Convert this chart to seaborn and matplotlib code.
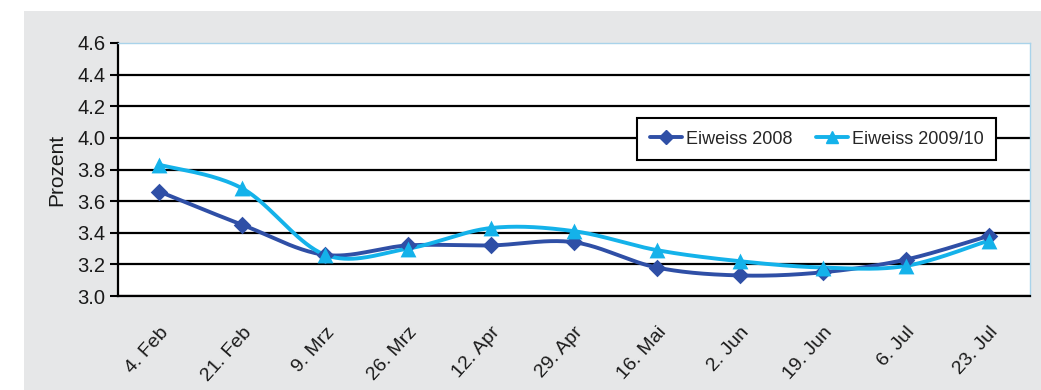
import numpy as np
import pandas as pd
import seaborn as sns
import matplotlib.pyplot as plt
from matplotlib.lines import Line2D
from matplotlib.patches import Rectangle

dates = ['4. Feb', '21. Feb', '9. Mrz', '26. Mrz', '12. Apr', '29. Apr',
         '16. Mai', '2. Jun', '19. Jun', '6. Jul', '23. Jul']
eiweiss_2008 = [3.66, 3.45, 3.26, 3.32, 3.32, 3.34, 3.18, 3.13, 3.15, 3.23, 3.38]
eiweiss_2009_10 = [3.83, 3.68, 3.26, 3.30, 3.43, 3.41, 3.29, 3.22, 3.18, 3.19, 3.35]
series_names = ['Eiweiss 2008', 'Eiweiss 2009/10']
colors = ['#2F4FA6', '#14B2EA']


def smooth_curve(values, steps=40):
    # excel-like smoothed line: catmull-rom bezier through the points
    pts = np.column_stack([np.arange(len(values)), values]).astype(float)
    ext = np.vstack([pts[0], pts, pts[-1]])
    out = []
    t = np.linspace(0, 1, steps)[:, None]
    for i in range(1, len(ext) - 2):
        p0, p1, p2, p3 = ext[i - 1], ext[i], ext[i + 1], ext[i + 2]
        c1 = p1 + (p2 - p0) / 6
        c2 = p2 - (p3 - p1) / 6
        seg = ((1 - t) ** 3) * p1 + 3 * ((1 - t) ** 2) * t * c1 \
            + 3 * (1 - t) * t ** 2 * c2 + t ** 3 * p2
        out.append(seg)
    return np.vstack(out)


sns.set_style('white')
plt.rcParams['font.family'] = ['Liberation Sans', 'DejaVu Sans']

fig = plt.figure(figsize=(10.41, 3.9), dpi=100, facecolor='white')
fig.patches.append(Rectangle((24 / 1041, 0), 1, 1 - 11 / 390,
                             transform=fig.transFigure, facecolor='#E6E7E8',
                             edgecolor='none', zorder=-10))
ax = fig.add_axes([118 / 1041, 1 - 296 / 390, 912 / 1041, 253 / 390])
ax.set_facecolor('white')

curves = []
points = []
for name, vals in zip(series_names, [eiweiss_2008, eiweiss_2009_10]):
    c = smooth_curve(vals)
    curves.append(pd.DataFrame({'x': c[:, 0], 'y': c[:, 1], 'serie': name,
                                'order': np.arange(len(c))}))
    points.append(pd.DataFrame({'x': np.arange(len(vals)), 'y': vals, 'serie': name}))
curves = pd.concat(curves)
points = pd.concat(points)

sns.lineplot(data=curves, x='x', y='y', hue='serie', palette=colors,
             sort=False, estimator=None, units='serie', linewidth=2.8,
             legend=False, ax=ax)
for name, col, mk, ms in zip(series_names, colors, ['D', '^'], [80, 130]):
    sub = points[points['serie'] == name]
    sns.scatterplot(data=sub, x='x', y='y', color=col, marker=mk, s=ms,
                    edgecolor=col, linewidth=0, legend=False, ax=ax, zorder=5)

ax.set_xlim(-0.5, len(dates) - 0.5)
ax.set_ylim(3.0, 4.6)
ax.set_yticks(np.arange(3.0, 4.61, 0.2))
ax.set_yticklabels([f'{v:.1f}' for v in np.arange(3.0, 4.61, 0.2)],
                   fontsize=14.5, color='#1a1a1a')
ax.set_xticks(np.arange(len(dates)))
ax.set_xticklabels(dates, rotation=48, ha='right', va='top',
                   rotation_mode='anchor', fontsize=14, color='#1a1a1a')
ax.set_xticks(np.arange(-0.5, len(dates)), minor=True)
ax.tick_params(axis='x', which='major', length=0, pad=20)
ax.tick_params(axis='x', which='minor', length=6, width=1.5, color='black',
               direction='out')
ax.tick_params(axis='y', length=6, width=1.5, color='black', direction='out',
               left=True, pad=3)
ax.set_xlabel('')
ax.set_ylabel('Prozent', fontsize=15, labelpad=8, color='#1a1a1a')

ax.yaxis.grid(True, color='black', linewidth=1.6)
ax.yaxis.get_gridlines()[-1].set_visible(False)
ax.set_axisbelow(True)
for side in ['left', 'bottom']:
    ax.spines[side].set_color('black')
    ax.spines[side].set_linewidth(1.6)
for side in ['top', 'right']:
    ax.spines[side].set_color('#A9D3EA')
    ax.spines[side].set_linewidth(1.0)

handles = [Line2D([], [], color=colors[0], marker='D', markersize=7, lw=2.8),
           Line2D([], [], color=colors[1], marker='^', markersize=9, lw=2.8)]
leg = ax.legend(handles, series_names, ncol=2, loc='upper left',
                bbox_to_anchor=(0.569, 0.704), borderaxespad=0, fontsize=13,
                frameon=True, fancybox=False, handlelength=1.8,
                handletextpad=0.2, columnspacing=1.3, borderpad=0.7)
leg.get_frame().set_edgecolor('black')
leg.get_frame().set_linewidth(1.5)
leg.get_frame().set_alpha(1)

fig.savefig('out.png', dpi=100, facecolor=fig.get_facecolor())
